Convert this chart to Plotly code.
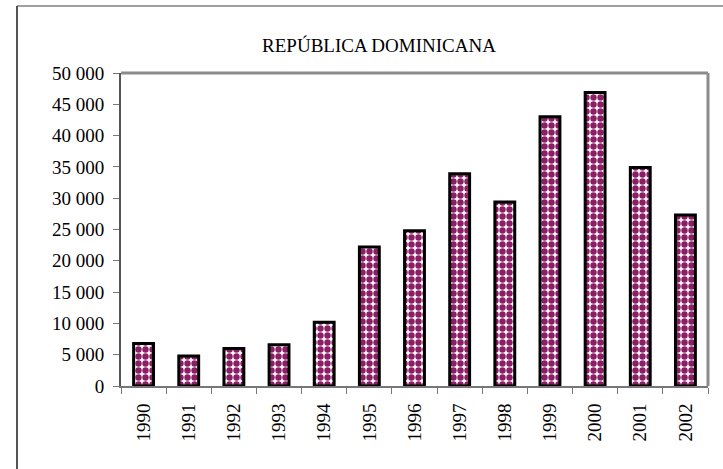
import plotly.graph_objects as go

years = ["1990", "1991", "1992", "1993", "1994", "1995", "1996",
         "1997", "1998", "1999", "2000", "2001", "2002"]
values = [6800, 4800, 6000, 6600, 10200, 22200, 24800,
          33900, 29400, 43000, 46900, 34900, 27300]
y_ticks = [0, 5000, 10000, 15000, 20000, 25000, 30000,
           35000, 40000, 45000, 50000]
title_text = "REPÚBLICA DOMINICANA"

PURPLE = "#8a1f66"
FONT = "Liberation Serif, Times New Roman, DejaVu Serif, serif"

fig = go.Figure(go.Bar(
    x=years, y=values, width=0.44,
    marker=dict(
        color="white",
        line=dict(color="black", width=3),
        pattern=dict(shape=".", fgcolor=PURPLE, bgcolor="white",
                     size=7, solidity=0.65, fillmode="replace"),
    ),
))

L, R, T, B = 121, 15, 73, 83
W, H = 723, 469
pw = W - L - R
ph = H - T - B

def px(x):
    return (x - L) / pw

def py(y):
    return (H - B - y) / ph

fig.update_layout(
    width=W, height=H,
    margin=dict(l=L, r=R, t=T, b=B),
    paper_bgcolor="white", plot_bgcolor="white",
    separators=", ",
    showlegend=False,
    font=dict(family=FONT, size=19, color="black"),
    title=dict(text=title_text, x=px(379), xref="paper", xanchor="center",
               y=1 - 45 / H, yref="container", yanchor="middle",
               font=dict(family=FONT, size=19, color="black")),
    shapes=[
        dict(type="line", xref="paper", yref="paper", x0=0, x1=1, y0=1, y1=1,
             line=dict(color="#8c8c8c", width=3)),
        dict(type="line", xref="paper", yref="paper", x0=1, x1=1, y0=0, y1=1,
             line=dict(color="#8c8c8c", width=3)),
        dict(type="line", xref="paper", yref="paper", x0=px(17), x1=px(W + 5),
             y0=py(6), y1=py(6), line=dict(color="#a0a0a0", width=2)),
        dict(type="line", xref="paper", yref="paper", x0=px(17), x1=px(17),
             y0=py(6), y1=py(H + 5), line=dict(color="#555555", width=2)),
    ],
)

fig.update_xaxes(
    type="category", showline=True, linecolor="#777777", linewidth=2,
    ticks="outside", tickson="boundaries", ticklen=6, tickcolor="#777777",
    tickangle=-90, showgrid=False, ticklabelstandoff=8,
    tickfont=dict(family=FONT, size=19, color="black"),
)
fig.update_yaxes(
    range=[0, 50000], tickvals=y_ticks, tickformat=",d",
    showline=True, linecolor="#555555", linewidth=2,
    ticks="outside", ticklen=6, tickcolor="#777777",
    showgrid=False, zeroline=False, ticklabelstandoff=5,
    tickfont=dict(family=FONT, size=19, color="black"),
)

fig.write_html(
    "out.html",
    config={"displayModeBar": False},
    post_script="document.body.style.margin='0';document.body.style.overflow='hidden';",
)
